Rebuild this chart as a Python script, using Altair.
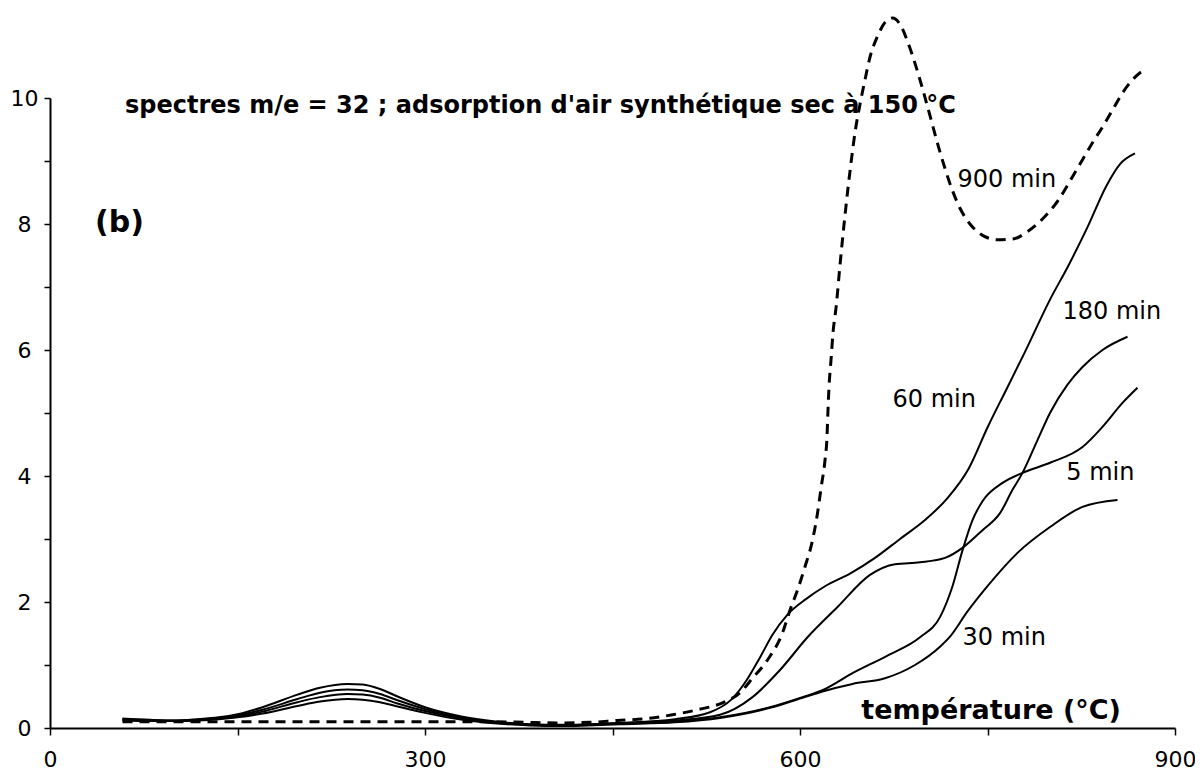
import altair as alt
import pandas as pd

# ---- data ----
# temperature (°C) and signal for each series
t_60 = [58, 80, 100, 118, 135, 150, 170, 198, 216, 238, 250, 264, 278, 300, 330, 358, 384, 410, 430, 456,
        500, 528, 545, 557, 568, 578, 590, 605, 620, 640, 660, 680, 700, 718, 735, 750, 765, 780, 800, 815,
        830, 845, 856, 868]
y_60 = [0.13, 0.12, 0.12, 0.14, 0.17, 0.22, 0.33, 0.53, 0.64, 0.70, 0.69, 0.62, 0.50, 0.33, 0.18, 0.10, 0.06, 0.05, 0.06, 0.08,
        0.14, 0.25, 0.45, 0.75, 1.12, 1.48, 1.80, 2.05, 2.25, 2.45, 2.70, 3.00, 3.30, 3.65, 4.12, 4.77, 5.37, 5.97, 6.80, 7.35,
        7.95, 8.60, 8.95, 9.12]

t_180 = [58, 80, 100, 118, 135, 150, 170, 198, 216, 238, 250, 264, 278, 300, 330, 358, 384, 410, 430, 456,
         500, 536, 562, 584, 606, 630, 656, 676, 696, 716, 730, 746, 760, 770, 778, 790, 800, 814, 826, 842, 862]
y_180 = [0.12, 0.11, 0.11, 0.13, 0.16, 0.20, 0.29, 0.46, 0.56, 0.61, 0.60, 0.54, 0.44, 0.30, 0.16, 0.09, 0.05, 0.04, 0.05, 0.08,
         0.12, 0.21, 0.49, 0.92, 1.44, 1.92, 2.43, 2.60, 2.63, 2.70, 2.86, 3.14, 3.41, 3.78, 4.05, 4.57, 5.00, 5.45, 5.73, 6.00, 6.21]

t_5 = [58, 80, 100, 118, 135, 150, 170, 198, 216, 238, 250, 264, 278, 300, 330, 358, 384, 410, 430, 456,
       500, 536, 576, 602, 618, 642, 670, 696, 712, 722, 730, 738, 746, 762, 778, 800, 826, 842, 858, 870]
y_5 = [0.15, 0.13, 0.12, 0.13, 0.15, 0.18, 0.26, 0.41, 0.49, 0.54, 0.53, 0.48, 0.39, 0.27, 0.15, 0.08, 0.05, 0.04, 0.05, 0.07,
       0.10, 0.17, 0.33, 0.49, 0.60, 0.87, 1.15, 1.44, 1.76, 2.25, 2.82, 3.30, 3.60, 3.89, 4.05, 4.21, 4.46, 4.78, 5.16, 5.40]

t_30 = [58, 80, 100, 118, 135, 150, 170, 198, 216, 238, 250, 264, 278, 300, 330, 358, 384, 410, 430, 456,
        500, 536, 576, 602, 618, 642, 668, 692, 712, 720, 734, 752, 774, 800, 826, 854]
y_30 = [0.14, 0.12, 0.11, 0.12, 0.14, 0.17, 0.23, 0.35, 0.42, 0.46, 0.45, 0.41, 0.34, 0.24, 0.13, 0.07, 0.04, 0.03, 0.04, 0.06,
        0.09, 0.16, 0.32, 0.48, 0.58, 0.70, 0.79, 1.00, 1.29, 1.45, 1.85, 2.30, 2.78, 3.19, 3.51, 3.62]

t_900 = [58, 100, 150, 200, 250, 300, 350, 380, 405, 432, 454, 478, 498, 518, 538, 552, 562, 574, 586, 592,
         598, 604, 610, 614, 617, 620, 621.6, 622.4, 623.2, 624.8, 626.4, 629, 632, 635, 638, 641, 644, 648, 652, 656,
         662, 668, 674, 680, 686, 692, 698, 704, 710, 716, 722, 728, 736, 746, 758, 770, 782, 794, 806, 818,
         826, 834, 842, 850, 858, 866, 876]
y_900 = [0.10, 0.10, 0.10, 0.10, 0.10, 0.10, 0.10, 0.09, 0.08, 0.09, 0.12, 0.15, 0.21, 0.29, 0.40, 0.56, 0.79, 1.08, 1.51, 1.87,
         2.19, 2.56, 2.98, 3.41, 3.83, 4.25, 4.62, 5.05, 5.41, 5.84, 6.27, 6.70, 7.35, 7.95, 8.50, 9.00, 9.45, 9.90, 10.29, 10.65,
         10.98, 11.20, 11.27, 11.17, 10.90, 10.55, 10.15, 9.72, 9.28, 8.88, 8.53, 8.25, 8.00, 7.82, 7.75, 7.76, 7.88, 8.08, 8.36, 8.75,
         9.02, 9.29, 9.54, 9.81, 10.08, 10.29, 10.46]

solid_series = [("60 min", t_60, y_60), ("180 min", t_180, y_180), ("5 min", t_5, y_5), ("30 min", t_30, y_30)]

# annotations (data coordinates)
label_text = ["900 min", "180 min", "60 min", "5 min", "30 min"]
label_t = [726, 810, 674, 813, 730]
label_y = [8.70, 6.60, 5.20, 4.05, 1.43]

title_text = ["spectres m/e = 32 ; adsorption d'air synthétique sec à 150 °C"]
title_t = [60]
title_y = [9.87]

panel_text = ["(b)"]
panel_t = [36]
panel_y = [8.02]

xlab_text = ["température (°C)"]
xlab_t = [649]
xlab_y = [0.27]

x_ticks = [0, 150, 300, 450, 600, 750, 900]
y_ticks = [0, 1, 2, 3, 4, 5, 6, 7, 8, 9, 10]

# ---- build tables ----
rows = []
for name, ts, ys in solid_series:
    for t, v in zip(ts, ys):
        rows.append({"T": t, "signal": v, "serie": name})
df_solid = pd.DataFrame(rows)
df_dash = pd.DataFrame({"T": t_900, "signal": y_900, "serie": "900 min"})

FONT = "DejaVu Sans"

xenc = alt.X("T:Q", title=None,
             scale=alt.Scale(domain=[0, 900], nice=False, zero=False),
             axis=alt.Axis(values=x_ticks, format="d",
                           labelExpr="datum.value % 300 === 0 ? datum.label : ''",
                           grid=False, domainColor="black", domainWidth=2,
                           tickColor="black", tickWidth=1.5, tickSize=7,
                           labelFont=FONT, labelFontSize=22, labelColor="black",
                           labelPadding=14, labelFlush=False))
yenc = alt.Y("signal:Q", title=None,
             scale=alt.Scale(domain=[0, 10], nice=False, zero=True),
             axis=alt.Axis(values=y_ticks, format="d",
                           labelExpr="datum.value % 2 === 0 ? datum.label : ''",
                           grid=False, domainColor="black", domainWidth=2,
                           tickColor="black", tickWidth=1.5, tickSize=6,
                           labelFont=FONT, labelFontSize=22, labelColor="black",
                           labelAlign="center", labelPadding=20, labelFlush=False))

solid = alt.Chart(df_solid).mark_line(
    interpolate="monotone", color="black", strokeWidth=2
).encode(x=xenc, y=yenc, detail="serie:N")

dashed = alt.Chart(df_dash).mark_line(
    interpolate="monotone", color="black", strokeWidth=3, strokeDash=[10, 7]
).encode(x="T:Q", y="signal:Q")


def text_layer(texts, ts, ys, size, weight):
    d = pd.DataFrame({"T": ts, "signal": ys, "txt": texts})
    return alt.Chart(d).mark_text(
        align="left", baseline="middle", font=FONT, fontSize=size,
        fontWeight=weight, color="black"
    ).encode(x="T:Q", y="signal:Q", text="txt:N")


chart = alt.layer(
    solid,
    dashed,
    text_layer(label_text, label_t, label_y, 24, "normal"),
    text_layer(title_text, title_t, title_y, 24, "bold"),
    text_layer(panel_text, panel_t, panel_y, 30, "bold"),
    text_layer(xlab_text, xlab_t, xlab_y, 27, "bold"),
).properties(
    width=1125, height=630,
    autosize=alt.AutoSizeParams(type="none"),
    padding={"left": 42, "top": 90, "right": 20, "bottom": 50},
    background="white",
).configure_view(stroke=None)

chart.save("out.html", embed_options={"renderer": "svg", "actions": False})
